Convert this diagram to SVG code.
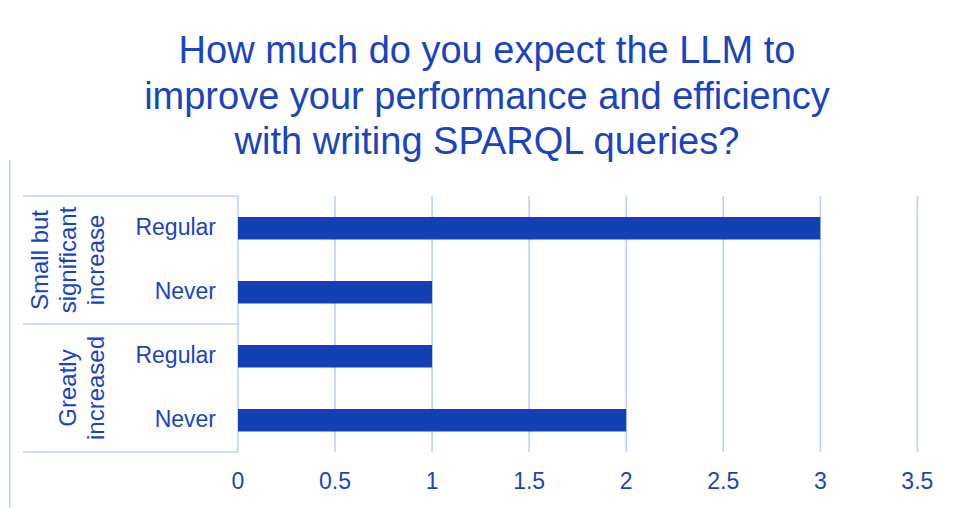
<svg xmlns="http://www.w3.org/2000/svg" width="953" height="508" viewBox="0 0 953 508">
  <style>
    text { font-family: "Liberation Sans", Arial, sans-serif; fill: #1a44bf; }
    .title { font-size: 38px; text-anchor: middle; }
    .lbl { font-size: 23px; text-anchor: end; }
    .tick { font-size: 23px; text-anchor: middle; }
    .grp { font-size: 24px; text-anchor: middle; }
    .grid { stroke: #bdd1fc; stroke-width: 1.6; fill: none; }
    .bar { fill: #1540b5; }
  </style>
  <rect width="953" height="508" fill="#ffffff"/>

  <!-- chart title -->
  <g id="title">
    <text class="title" x="487" y="63">How much do you expect the LLM to</text>
    <text class="title" x="487" y="109">improve your performance and efficiency</text>
    <text class="title" x="487" y="154">with writing SPARQL queries?</text>
  </g>

  <!-- frame and value grid -->
  <g id="grid" class="grid">
    <line x1="9.7" y1="160" x2="9.7" y2="508"/>
    <line x1="23" y1="196" x2="238" y2="196"/>
    <line x1="23" y1="324" x2="238" y2="324"/>
    <line x1="23" y1="452" x2="238" y2="452"/>
    <line x1="238" y1="196" x2="238" y2="452"/>
    <line x1="335.05" y1="196" x2="335.05" y2="452"/>
    <line x1="432.1" y1="196" x2="432.1" y2="452"/>
    <line x1="529.15" y1="196" x2="529.15" y2="452"/>
    <line x1="626.2" y1="196" x2="626.2" y2="452"/>
    <line x1="723.25" y1="196" x2="723.25" y2="452"/>
    <line x1="820.3" y1="196" x2="820.3" y2="452"/>
    <line x1="917.35" y1="196" x2="917.35" y2="452"/>
  </g>

  <!-- value axis labels -->
  <g id="x-axis">
    <text class="tick" x="238" y="489">0</text>
    <text class="tick" x="335.05" y="489">0.5</text>
    <text class="tick" x="432.1" y="489">1</text>
    <text class="tick" x="529.15" y="489">1.5</text>
    <text class="tick" x="626.2" y="489">2</text>
    <text class="tick" x="723.25" y="489">2.5</text>
    <text class="tick" x="820.3" y="489">3</text>
    <text class="tick" x="917.35" y="489">3.5</text>
  </g>

  <!-- group: small but significant increase -->
  <g id="group-small">
    <text class="grp" transform="translate(48 260) rotate(-90)">Small but</text>
    <text class="grp" transform="translate(76 260) rotate(-90)">significant</text>
    <text class="grp" transform="translate(104 260) rotate(-90)">increase</text>
  </g>
  <g id="small-regular">
    <text class="lbl" x="216" y="235">Regular</text>
    <rect class="bar" x="238" y="217" width="582.3" height="22.5"/>
  </g>
  <g id="small-never">
    <text class="lbl" x="216" y="299">Never</text>
    <rect class="bar" x="238" y="281" width="194.1" height="22.5"/>
  </g>

  <!-- group: greatly increased -->
  <g id="group-greatly">
    <text class="grp" transform="translate(76 388) rotate(-90)">Greatly</text>
    <text class="grp" transform="translate(104 388) rotate(-90)">increased</text>
  </g>
  <g id="greatly-regular">
    <text class="lbl" x="216" y="363">Regular</text>
    <rect class="bar" x="238" y="345" width="194.1" height="22.5"/>
  </g>
  <g id="greatly-never">
    <text class="lbl" x="216" y="427">Never</text>
    <rect class="bar" x="238" y="409" width="388.2" height="22.5"/>
  </g>
</svg>
